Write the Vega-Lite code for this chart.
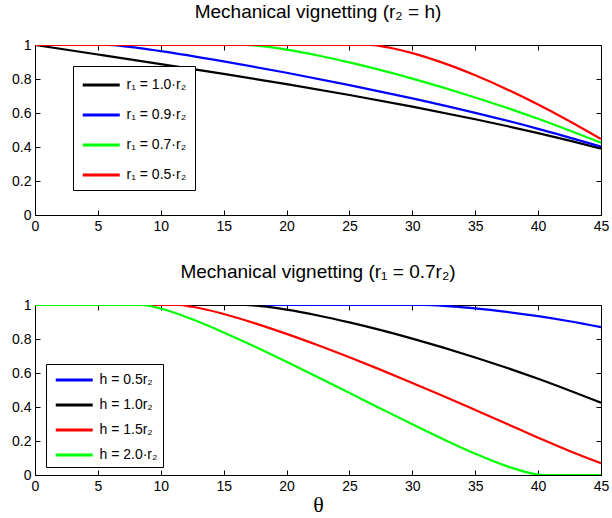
{
  "$schema": "https://vega.github.io/schema/vega-lite/v6.json",
  "padding": {"left": 11, "top": 2, "right": 0, "bottom": 2},
  "spacing": 28,
  "resolve": {"scale": {"color": "independent"}, "legend": {"color": "independent"}},
  "datasets": {
    "top": [
      {"series": "A", "theta": 0, "v": 1}, {"series": "A", "theta": 5, "v": 0.9443}, {"series": "A", "theta": 10, "v": 0.8879}, {"series": "A", "theta": 15, "v": 0.8299}, {"series": "A", "theta": 20, "v": 0.7696}, {"series": "A", "theta": 25, "v": 0.7059}, {"series": "A", "theta": 30, "v": 0.6376}, {"series": "A", "theta": 35, "v": 0.5635}, {"series": "A", "theta": 37.5, "v": 0.5238}, {"series": "A", "theta": 40, "v": 0.4819}, {"series": "A", "theta": 42.5, "v": 0.4377}, {"series": "A", "theta": 45, "v": 0.391},
      {"series": "B", "theta": 0, "v": 1}, {"series": "B", "theta": 5.71, "v": 1}, {"series": "B", "theta": 7.5, "v": 0.989}, {"series": "B", "theta": 10, "v": 0.9639}, {"series": "B", "theta": 15, "v": 0.9037}, {"series": "B", "theta": 20, "v": 0.8367}, {"series": "B", "theta": 25, "v": 0.7644}, {"series": "B", "theta": 30, "v": 0.6862}, {"series": "B", "theta": 35, "v": 0.6009}, {"series": "B", "theta": 40, "v": 0.5069}, {"series": "B", "theta": 45, "v": 0.4024},
      {"series": "C", "theta": 0, "v": 1}, {"series": "C", "theta": 16.7, "v": 1}, {"series": "C", "theta": 18, "v": 0.9929}, {"series": "C", "theta": 20, "v": 0.9724}, {"series": "C", "theta": 22.5, "v": 0.9382}, {"series": "C", "theta": 25, "v": 0.8976}, {"series": "C", "theta": 30, "v": 0.8024}, {"series": "C", "theta": 35, "v": 0.6916}, {"series": "C", "theta": 40, "v": 0.5659}, {"series": "C", "theta": 45, "v": 0.4248},
      {"series": "D", "theta": 0, "v": 1}, {"series": "D", "theta": 26.57, "v": 1}, {"series": "D", "theta": 27.5, "v": 0.9931}, {"series": "D", "theta": 28.5, "v": 0.9795}, {"series": "D", "theta": 30, "v": 0.9522}, {"series": "D", "theta": 32.5, "v": 0.8933}, {"series": "D", "theta": 35, "v": 0.8218}, {"series": "D", "theta": 37.5, "v": 0.7401}, {"series": "D", "theta": 40, "v": 0.6496}, {"series": "D", "theta": 42.5, "v": 0.5514}, {"series": "D", "theta": 45, "v": 0.4467}
    ],
    "bottom": [
      {"series": "A", "theta": 0, "v": 1}, {"series": "A", "theta": 30.96, "v": 1}, {"series": "A", "theta": 32.5, "v": 0.9954}, {"series": "A", "theta": 35, "v": 0.9805}, {"series": "A", "theta": 37.5, "v": 0.9597}, {"series": "A", "theta": 40, "v": 0.9342}, {"series": "A", "theta": 42.5, "v": 0.9042}, {"series": "A", "theta": 45, "v": 0.8696},
      {"series": "B", "theta": 0, "v": 1}, {"series": "B", "theta": 16.7, "v": 1}, {"series": "B", "theta": 18, "v": 0.9929}, {"series": "B", "theta": 20, "v": 0.9724}, {"series": "B", "theta": 22.5, "v": 0.9382}, {"series": "B", "theta": 25, "v": 0.8976}, {"series": "B", "theta": 30, "v": 0.8024}, {"series": "B", "theta": 35, "v": 0.6916}, {"series": "B", "theta": 40, "v": 0.5659}, {"series": "B", "theta": 45, "v": 0.4248},
      {"series": "C", "theta": 0, "v": 1}, {"series": "C", "theta": 11.31, "v": 1}, {"series": "C", "theta": 12.5, "v": 0.9895}, {"series": "C", "theta": 15, "v": 0.9471}, {"series": "C", "theta": 17.5, "v": 0.8921}, {"series": "C", "theta": 20, "v": 0.8301}, {"series": "C", "theta": 22.5, "v": 0.7631}, {"series": "C", "theta": 25, "v": 0.6923}, {"series": "C", "theta": 27.5, "v": 0.6184}, {"series": "C", "theta": 30, "v": 0.5418}, {"series": "C", "theta": 32.5, "v": 0.463}, {"series": "C", "theta": 35, "v": 0.3824}, {"series": "C", "theta": 37.5, "v": 0.3009}, {"series": "C", "theta": 40, "v": 0.2198}, {"series": "C", "theta": 42.5, "v": 0.1411}, {"series": "C", "theta": 45, "v": 0.0689},
      {"series": "D", "theta": 0, "v": 1}, {"series": "D", "theta": 8.53, "v": 1}, {"series": "D", "theta": 10, "v": 0.9791}, {"series": "D", "theta": 12.5, "v": 0.9159}, {"series": "D", "theta": 15, "v": 0.8389}, {"series": "D", "theta": 17.5, "v": 0.7548}, {"series": "D", "theta": 20, "v": 0.6664}, {"series": "D", "theta": 22.5, "v": 0.5755}, {"series": "D", "theta": 25, "v": 0.483}, {"series": "D", "theta": 27.5, "v": 0.3901}, {"series": "D", "theta": 30, "v": 0.298}, {"series": "D", "theta": 32.5, "v": 0.2087}, {"series": "D", "theta": 35, "v": 0.1249}, {"series": "D", "theta": 37.5, "v": 0.052}, {"series": "D", "theta": 40, "v": 0.0025}, {"series": "D", "theta": 40.36, "v": 0}, {"series": "D", "theta": 45, "v": 0}
    ]
  },
  "vconcat": [
    {
      "title": "Mechanical vignetting (r₂ = h)",
      "width": 566, "height": 170,
      "data": {"name": "top"},
      "resolve": {"axis": {"x": "independent", "y": "independent"}},
      "layer": [
        {
          "mark": {"type": "line", "strokeWidth": 2.2, "interpolate": "monotone", "clip": true},
          "encoding": {
            "x": {"field": "theta", "type": "quantitative", "scale": {"domain": [0, 45], "nice": false}, "axis": {"title": null, "values": [0,5,10,15,20,25,30,35,40,45]}},
            "y": {"field": "v", "type": "quantitative", "scale": {"domain": [0, 1], "nice": false}, "axis": {"title": null, "values": [0,0.2,0.4,0.6,0.8,1], "format": "~g"}},
            "color": {"field": "series", "type": "nominal",
              "scale": {"domain": ["A","B","C","D"], "range": ["#000000","#0000ff","#00ff00","#ff0000"]},
              "legend": {"orient": "none", "legendX": 38, "legendY": 21, "title": null,
                "labelExpr": "{'A':'r₁ = 1.0·r₂','B':'r₁ = 0.9·r₂','C':'r₁ = 0.7·r₂','D':'r₁ = 0.5·r₂'}[datum.value]",
                "rowPadding": 12, "padding": 8}}
          }
        },
        {
          "mark": {"type": "line", "strokeOpacity": 0},
          "encoding": {
            "x": {"field": "theta", "type": "quantitative", "scale": {"domain": [0, 45], "nice": false}, "axis": {"orient": "top", "title": null, "labels": false, "values": [0,5,10,15,20,25,30,35,40,45]}},
            "y": {"field": "v", "type": "quantitative", "scale": {"domain": [0, 1], "nice": false}, "axis": {"orient": "right", "title": null, "labels": false, "values": [0,0.2,0.4,0.6,0.8,1]}},
            "detail": {"field": "series"}
          }
        }
      ]
    },
    {
      "title": "Mechanical vignetting (r₁ = 0.7r₂)",
      "width": 566, "height": 170,
      "data": {"name": "bottom"},
      "resolve": {"axis": {"x": "independent", "y": "independent"}},
      "layer": [
        {
          "mark": {"type": "line", "strokeWidth": 2.2, "interpolate": "monotone", "clip": true},
          "encoding": {
            "x": {"field": "theta", "type": "quantitative", "scale": {"domain": [0, 45], "nice": false}, "axis": {"title": "θ", "titleFont": "Liberation Serif", "titleFontSize": 22, "titleFontWeight": "normal", "titlePadding": 1, "values": [0,5,10,15,20,25,30,35,40,45]}},
            "y": {"field": "v", "type": "quantitative", "scale": {"domain": [0, 1], "nice": false}, "axis": {"title": null, "values": [0,0.2,0.4,0.6,0.8,1], "format": "~g"}},
            "color": {"field": "series", "type": "nominal",
              "scale": {"domain": ["A","B","C","D"], "range": ["#0000ff","#000000","#ff0000","#00ff00"]},
              "legend": {"orient": "none", "legendX": 11, "legendY": 59, "title": null,
                "labelExpr": "{'A':'h = 0.5r₂','B':'h = 1.0r₂','C':'h = 1.5r₂','D':'h = 2.0·r₂'}[datum.value]",
                "rowPadding": 7, "padding": 5, "symbolOffset": 3}}
          }
        },
        {
          "mark": {"type": "line", "strokeOpacity": 0},
          "encoding": {
            "x": {"field": "theta", "type": "quantitative", "scale": {"domain": [0, 45], "nice": false}, "axis": {"orient": "top", "title": null, "labels": false, "values": [0,5,10,15,20,25,30,35,40,45]}},
            "y": {"field": "v", "type": "quantitative", "scale": {"domain": [0, 1], "nice": false}, "axis": {"orient": "right", "title": null, "labels": false, "values": [0,0.2,0.4,0.6,0.8,1]}},
            "detail": {"field": "series"}
          }
        }
      ]
    }
  ],
  "config": {
    "font": "Liberation Sans",
    "view": {"stroke": "#000000", "strokeWidth": 1},
    "axis": {"domain": false, "grid": false, "tickSize": 5, "tickWidth": 1, "offset": -5, "labelFlush": false, "tickColor": "#000000", "labelColor": "#000000", "labelFontSize": 14, "labelPadding": 4, "labelFont": "Liberation Sans", "titleColor": "#000000"},
    "title": {"fontSize": 19, "fontWeight": "normal", "color": "#000000", "offset": 16, "font": "Liberation Sans"},
    "legend": {"symbolType": "M-1,0H3", "symbolSize": 342, "symbolStrokeWidth": 3, "labelFontSize": 14, "labelFont": "Liberation Sans", "labelColor": "#000000", "labelOffset": 23.5, "strokeColor": "#000000", "fillColor": "#ffffff", "cornerRadius": 0, "strokeWidth": 1}
  }
}
